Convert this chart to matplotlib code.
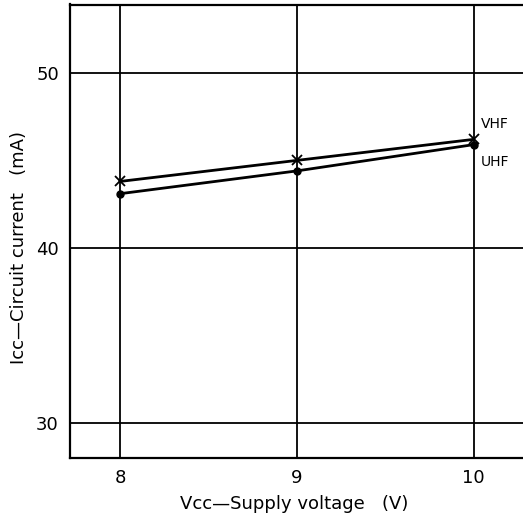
import matplotlib
matplotlib.use("Agg")
import matplotlib.pyplot as plt

plt.rcParams['font.family'] = ['DejaVu Sans']

voltage = [8, 9, 10]
vhf_current = [43.8, 45.0, 46.2]
uhf_current = [43.1, 44.4, 45.9]
x_ticks = [8, 9, 10]
y_ticks = [30, 40, 50]

fig = plt.figure(figsize=(5.23, 5.22), dpi=100)
ax = fig.add_axes([70/523, 1 - 457.7/522, 1 - 70/523, (457.7 - 4.5)/522])

ax.set_xlim(7.717, 10.28)
ax.set_ylim(28.03, 53.9)
ax.set_xticks(x_ticks)
ax.set_yticks(y_ticks)
ax.tick_params(length=0, labelsize=13, pad=8)
ax.grid(True, color='black', linewidth=1.3)
ax.set_axisbelow(True)
for side in ['left', 'bottom', 'top']:
    ax.spines[side].set_linewidth(1.6)
ax.spines['right'].set_visible(False)

ax.plot(voltage, vhf_current, color='black', linewidth=2, marker='x', markersize=7, markeredgewidth=1.3)
ax.plot(voltage, uhf_current, color='black', linewidth=2, marker='o', markersize=5)

ax.text(10.04, vhf_current[-1] + 0.5, 'VHF', fontsize=10, ha='left', va='bottom')
ax.text(10.04, uhf_current[-1] - 0.6, 'UHF', fontsize=10, ha='left', va='top')

fig.text(294/523, 1 - 504/522, 'Vcc\u2014Supply voltage   (V)', fontsize=13, ha='center', va='center')
fig.text(19/523, 1 - 248/522, 'Icc\u2014Circuit current   (mA)', fontsize=13, ha='center', va='center', rotation=90)

fig.savefig('out.png', dpi=100)
